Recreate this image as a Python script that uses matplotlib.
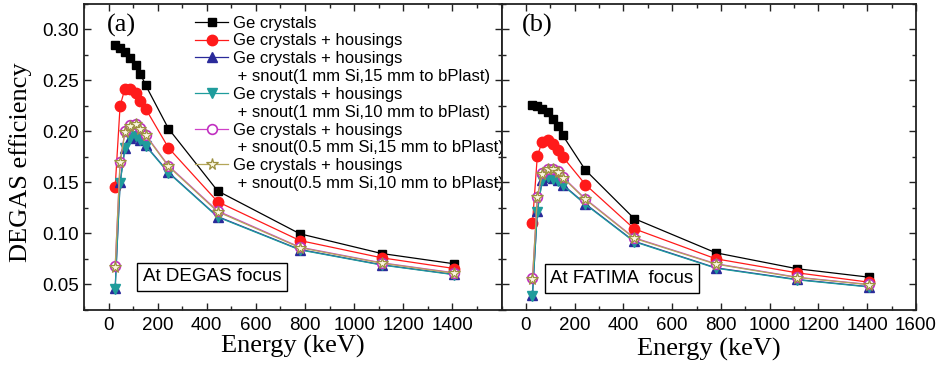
import matplotlib
matplotlib.use("Agg")
import matplotlib.pyplot as plt
from matplotlib.lines import Line2D
from matplotlib.ticker import MultipleLocator

# ---------------- data ----------------
energy = [27, 47, 67, 89, 110, 130, 151, 244, 444, 779, 1112, 1408]

# (a) At DEGAS focus
a_ge      = [0.284, 0.2815, 0.278, 0.272, 0.265, 0.256, 0.245, 0.2025, 0.1416, 0.0996, 0.0803, 0.0702]
a_house   = [0.1455, 0.225, 0.2418, 0.2418, 0.2374, 0.230, 0.222, 0.1837, 0.131, 0.093, 0.0761, 0.0656]
a_si1_15  = [0.047, 0.150, 0.1840, 0.1938, 0.1957, 0.1918, 0.1862, 0.1598, 0.1165, 0.0842, 0.0693, 0.0598]
a_si1_10  = [0.046, 0.149, 0.1835, 0.1932, 0.1952, 0.1912, 0.1856, 0.1592, 0.1160, 0.0838, 0.0690, 0.0595]
a_si05_15 = [0.068, 0.1703, 0.200, 0.2058, 0.2075, 0.2028, 0.1965, 0.1662, 0.122, 0.0865, 0.0712, 0.0614]
a_si05_10 = [0.067, 0.1695, 0.1993, 0.2052, 0.2068, 0.2020, 0.1958, 0.1655, 0.1212, 0.0860, 0.0708, 0.0610]

# (b) At FATIMA focus
b_ge      = [0.226, 0.2243, 0.222, 0.2185, 0.212, 0.2055, 0.196, 0.162, 0.1145, 0.081, 0.0654, 0.0571]
b_house   = [0.110, 0.176, 0.1895, 0.191, 0.1876, 0.182, 0.175, 0.1478, 0.1045, 0.0751, 0.0614, 0.0522]
b_si1_15  = [0.0396, 0.1217, 0.1527, 0.1553, 0.1543, 0.152, 0.1478, 0.1289, 0.0923, 0.0663, 0.0549, 0.0478]
b_si1_10  = [0.0390, 0.1210, 0.1520, 0.1547, 0.1537, 0.1514, 0.1472, 0.1283, 0.0918, 0.0659, 0.0545, 0.0475]
b_si05_15 = [0.0559, 0.136, 0.159, 0.1634, 0.1634, 0.161, 0.1553, 0.1338, 0.0957, 0.0703, 0.0571, 0.0500]
b_si05_10 = [0.0553, 0.1353, 0.1583, 0.1627, 0.1627, 0.1603, 0.1546, 0.1332, 0.0952, 0.0699, 0.0568, 0.0497]

labels = [
    "Ge crystals",
    "Ge crystals + housings",
    "Ge crystals + housings",
    " + snout(1 mm Si,15 mm to bPlast)",
    "Ge crystals + housings",
    " + snout(1 mm Si,10 mm to bPlast)",
    "Ge crystals + housings",
    " + snout(0.5 mm Si,15 mm to bPlast)",
    "Ge crystals + housings",
    " + snout(0.5 mm Si,10 mm to bPlast)",
]
xticks_a = [0, 200, 400, 600, 800, 1000, 1200, 1400]
xticks_b = [0, 200, 400, 600, 800, 1000, 1200, 1400, 1600]
yticks = [0.05, 0.10, 0.15, 0.20, 0.25, 0.30]

# ---------------- styles ----------------
styles = [
    dict(color="#000000", marker="s", ms=6, mfc="#000000", mec="#000000"),
    dict(color="#ff1a1a", marker="o", ms=7.5, mfc="#ff1a1a", mec="#ff1a1a"),
    dict(color="#2a2a9a", marker="^", ms=7, mfc="#2a2a9a", mec="#2a2a9a"),
    dict(color="#1f9c9c", marker="v", ms=7, mfc="#1f9c9c", mec="#1f9c9c"),
    dict(color="#d040c8", marker="o", ms=7, mfc="white", mec="#c030c0", mew=1.2),
    dict(color="#b4a658", marker="*", ms=8.5, mfc="#fbf7e0", mec="#9c9040", mew=0.9),
]

SANS = "Liberation Sans"
SERIF = "Liberation Serif"

W, H = 943, 371
fig = plt.figure(figsize=(W / 100, H / 100), dpi=100)

ax_bot = (H - 310) / H
ax_h = (310 - 3.5) / H
axA = fig.add_axes([84 / W, ax_bot, (501.5 - 84) / W, ax_h])
axB = fig.add_axes([501.5 / W, ax_bot, (916 - 501.5) / W, ax_h])

series_a = [a_ge, a_house, a_si1_15, a_si1_10, a_si05_15, a_si05_10]
series_b = [b_ge, b_house, b_si1_15, b_si1_10, b_si05_15, b_si05_10]

handles = []
for vals, st in zip(series_a, styles):
    h, = axA.plot(energy, vals, lw=0.9, **st)
    handles.append(h)
for vals, st in zip(series_b, styles):
    axB.plot(energy, vals, lw=0.9, **st)

for ax, xt, lp in ((axA, xticks_a, 1.0), (axB, xticks_b, 2.5)):
    ax.set_xlim(-100, 1600)
    ax.set_ylim(0.025, 0.325)
    ax.set_xticks(xt)
    ax.set_xticklabels([str(v) for v in xt], fontfamily=SANS, fontsize=13.5)
    ax.xaxis.set_minor_locator(MultipleLocator(100))
    ax.set_yticks(yticks)
    ax.yaxis.set_minor_locator(MultipleLocator(0.025))
    ax.tick_params(which="both", direction="in", top=True, right=True, color="#222222")
    ax.tick_params(which="major", length=5, width=1)
    ax.tick_params(which="minor", length=3, width=1)
    ax.tick_params(axis="x", pad=5)
    for sp in ax.spines.values():
        sp.set_linewidth(1.3)
        sp.set_color("#222222")
    ax.set_xlabel("Energy (keV)", fontfamily=SERIF, fontsize=19, labelpad=lp)

axA.set_yticklabels(["%.2f" % v for v in yticks], fontfamily=SANS, fontsize=13.5)
axB.tick_params(axis="y", labelleft=False)

fig.text(21 / W, (H - 162) / H, "DEGAS efficiency", rotation=90, ha="center", va="center",
         fontfamily=SERIF, fontsize=19)

axA.text(0.055, 0.93, "(a)", transform=axA.transAxes, fontfamily=SERIF, fontsize=19,
         ha="left", va="center")
axB.text(0.05, 0.93, "(b)", transform=axB.transAxes, fontfamily=SERIF, fontsize=19,
         ha="left", va="center")

box = dict(boxstyle="square,pad=0.3", fc="white", ec="black", lw=1)
axA.text(0.307, 0.108, "At DEGAS focus", transform=axA.transAxes, fontfamily=SANS,
         fontsize=13.5, ha="center", va="center", bbox=box)
axB.text(0.29, 0.103, "At FATIMA  focus", transform=axB.transAxes, fontfamily=SANS,
         fontsize=13.5, ha="center", va="center", bbox=box)

blank = Line2D([], [], color="none", marker=None)
leg_handles = [handles[0], handles[1], handles[2], blank, handles[3], blank,
               handles[4], blank, handles[5], blank]
leg = axA.legend(leg_handles, labels, loc="upper left", bbox_to_anchor=(0.262, 0.966),
                 frameon=False, prop={"family": SANS, "size": 12}, handlelength=2.0,
                 handletextpad=0.25, labelspacing=0.17, borderpad=0.1, borderaxespad=0)

fig.savefig("out.png", dpi=100)
